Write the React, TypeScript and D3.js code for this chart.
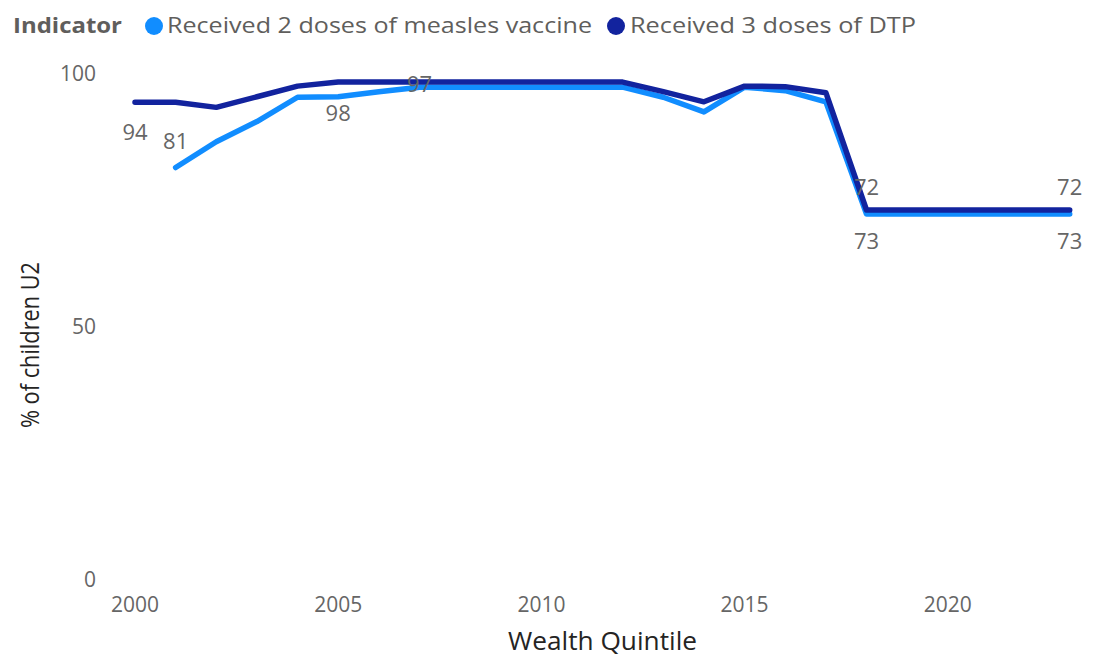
import React from "react";
import * as d3 from "d3";

const years = [2000, 2001, 2002, 2003, 2004, 2005, 2006, 2007, 2008, 2009, 2010, 2011, 2012, 2013, 2014, 2015, 2016, 2017, 2018, 2019, 2020, 2021, 2022, 2023];
const measles: (number | null)[] = [null, 81.5, 86.6, 90.6, 95.4, 95.5, 96.5, 97.4, 97.4, 97.4, 97.4, 97.4, 97.4, 95.4, 92.5, 97.4, 96.7, 94.5, 72.3, 72.3, 72.3, 72.3, 72.3, 72.3];
const dtp: (number | null)[] = [94.4, 94.4, 93.4, 95.5, 97.6, 98.4, 98.4, 98.4, 98.4, 98.4, 98.4, 98.4, 98.4, 96.5, 94.5, 97.6, 97.5, 96.3, 73.1, 73.1, 73.1, 73.1, 73.1, 73.1];

const legendTitle = "Indicator";
const seriesNames = ["Received 2 doses of measles vaccine", "Received 3 doses of DTP"];
const seriesColors = ["#118DFF", "#12239E"];

const yTicks = [0, 50, 100];
const xTicks = [2000, 2005, 2010, 2015, 2020];
const xTitle = "Wealth Quintile";
const yTitle = "% of children U2";

// data labels: year, text, anchor value (in % units)
const labelYears = [2000, 2001, 2005, 2007, 2018, 2018, 2023, 2023];
const labelTexts = ["94", "81", "98", "97", "72", "73", "72", "73"];
const labelAnchors = [88.5, 86.6, 92.3, 98.0, 77.5, 67.0, 77.5, 67.0];

const W = 1107;
const H = 658;
const FONT = "'Segoe UI', 'Open Sans', 'Noto Sans', sans-serif";

export default function App() {
  const x = d3.scaleLinear().domain([2000, 2023]).range([135, 1069.7]);
  const y = d3.scaleLinear().domain([0, 100]).range([579.5, 74]);

  const line = d3
    .line<[number, number | null]>()
    .defined((d) => d[1] !== null)
    .x((d) => x(d[0]))
    .y((d) => y(d[1] as number));

  const series = [measles, dtp];

  return (
    <svg width={W} height={H} style={{ position: "absolute", left: 0, top: 0 }} fontFamily={FONT}>
      <rect width={W} height={H} fill="#fff" />
      {/* legend */}
      <g>
        <text x={13} y={33} fontSize={22} fontWeight="bold" fill="#605E5C" textLength={109} lengthAdjust="spacingAndGlyphs">{legendTitle}</text>
        <circle cx={154} cy={26} r={9} fill={seriesColors[0]} />
        <text x={167} y={33} fontSize={22} fill="#605E5C" textLength={425} lengthAdjust="spacingAndGlyphs">{seriesNames[0]}</text>
        <circle cx={616} cy={26} r={9} fill={seriesColors[1]} />
        <text x={630} y={33} fontSize={22} fill="#605E5C" textLength={286} lengthAdjust="spacingAndGlyphs">{seriesNames[1]}</text>
      </g>
      {/* y axis */}
      <g>
        {yTicks.map((t) => (
          <text key={t} x={96} y={y(t)} dy="0.35em" textAnchor="end" fontSize={21} fill="#666">{t}</text>
        ))}
        <text transform={`translate(39,345) rotate(-90)`} textAnchor="middle" fontSize={26} fill="#252423" textLength={166} lengthAdjust="spacingAndGlyphs">{yTitle}</text>
      </g>
      {/* x axis */}
      <g>
        {xTicks.map((t) => (
          <text key={t} x={x(t)} y={612} textAnchor="middle" fontSize={21} fill="#666">{t}</text>
        ))}
        <text x={602.5} y={650} textAnchor="middle" fontSize={25} fill="#252423" textLength={189} lengthAdjust="spacingAndGlyphs">{xTitle}</text>
      </g>
      {/* lines */}
      {series.map((s, i) => (
        <path
          key={i}
          d={line(years.map((yr, j) => [yr, s[j]] as [number, number | null])) || ""}
          fill="none"
          stroke={seriesColors[i]}
          strokeWidth={5.5}
          strokeLinejoin="round"
          strokeLinecap="round"
        />
      ))}
      {/* data labels */}
      {labelTexts.map((t, i) => (
        <text key={i} x={x(labelYears[i])} y={y(labelAnchors[i])} dy="0.35em" textAnchor="middle" fontSize={22} fill="#666">{t}</text>
      ))}
    </svg>
  );
}
